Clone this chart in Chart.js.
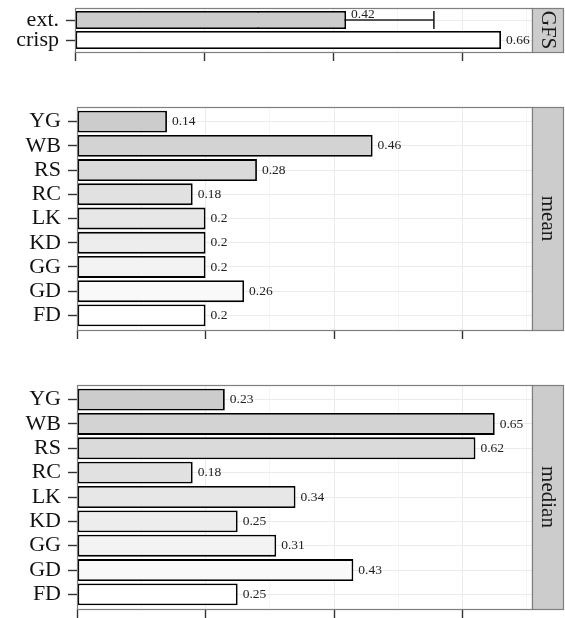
<!DOCTYPE html>
<html>
<head>
<meta charset="utf-8">
<script src="https://cdn.jsdelivr.net/npm/chart.js@4/dist/chart.umd.min.js"></script>
<style>
  body { margin: 0; background: #fff; }
  canvas { position: absolute; left: 0; }
</style>
</head>
<body>
<canvas id="gfs" width="565" height="62" style="top:0px"></canvas>
<canvas id="mean" width="565" height="242" style="top:99px"></canvas>
<canvas id="median" width="565" height="241" style="top:377px"></canvas>
<script>
// bottom-to-top order, like the picture
const gfsCategories = ["crisp", "ext."];
const gfsValues = [0.66, 0.42];
const gfsErrors = [0, 0.136];

const categories = ["FD", "GD", "GG", "KD", "LK", "RC", "RS", "WB", "YG"];
const meanValues = [0.2, 0.26, 0.2, 0.2, 0.2, 0.18, 0.28, 0.46, 0.14];
const medianValues = [0.25, 0.43, 0.31, 0.25, 0.34, 0.18, 0.62, 0.65, 0.23];

const xMax = 0.708;
const serif = '"Liberation Serif", "DejaVu Serif", serif';

// white for the first bar down to grey80 for the last one
function greys(n) {
  const lo = Math.pow(0.8, 2.2);
  const out = [];
  for (let i = 0; i < n; i++) {
    const g = Math.round(255 * Math.pow(1 - (i / (n - 1)) * (1 - lo), 1 / 2.2));
    out.push(`rgb(${g},${g},${g})`);
  }
  return out;
}

const isMajor = v => Math.round(v * 10) % 2 === 0;

const panelDecor = {
  id: "panelDecor",
  beforeDatasetsDraw(chart, args, opts) {
    // error bar goes under the bar so only the upper whisker shows
    if (!opts.errors) return;
    const ctx = chart.ctx;
    const xs = chart.scales.x;
    const data = chart.data.datasets[0].data;
    ctx.save();
    ctx.strokeStyle = "#222";
    ctx.lineWidth = 1.6;
    chart.getDatasetMeta(0).data.forEach((bar, i) => {
      const e = opts.errors[i];
      if (!e) return;
      const x0 = xs.getPixelForValue(data[i].x - e);
      const x1 = xs.getPixelForValue(data[i].x + e);
      const h = bar.height / 2;
      ctx.beginPath();
      ctx.moveTo(x0, bar.y); ctx.lineTo(x1, bar.y);
      ctx.moveTo(x0, bar.y - h); ctx.lineTo(x0, bar.y + h);
      ctx.moveTo(x1, bar.y - h); ctx.lineTo(x1, bar.y + h);
      ctx.stroke();
    });
    ctx.restore();
  },
  afterDatasetsDraw(chart, args, opts) {
    const ctx = chart.ctx;
    const data = chart.data.datasets[0].data;
    ctx.save();
    ctx.fillStyle = "#222";
    ctx.font = "13.5px " + serif;
    ctx.textAlign = "left";
    ctx.textBaseline = "middle";
    chart.getDatasetMeta(0).data.forEach((bar, i) => {
      const up = opts.errors && opts.errors[i] ? -6 : 0;
      ctx.fillText(String(data[i].x), bar.x + 5, bar.y + up);
    });
    ctx.restore();
  },
  afterDraw(chart, args, opts) {
    const ctx = chart.ctx;
    const a = chart.chartArea;
    ctx.save();
    ctx.strokeStyle = "#7f7f7f";
    ctx.lineWidth = 1.2;
    ctx.strokeRect(a.left + 0.5, a.top + 0.5, a.right - a.left, a.bottom - a.top);
    // facet strip
    ctx.fillStyle = "#cccccc";
    ctx.fillRect(a.right + 0.5, a.top + 0.5, 31, a.bottom - a.top);
    ctx.strokeRect(a.right + 0.5, a.top + 0.5, 31, a.bottom - a.top);
    ctx.translate(a.right + 16, (a.top + a.bottom) / 2);
    ctx.rotate(Math.PI / 2);
    ctx.fillStyle = "#1a1a1a";
    ctx.font = "21px " + serif;
    ctx.textAlign = "center";
    ctx.textBaseline = "middle";
    ctx.fillText(opts.title, 0, 0);
    ctx.restore();
  }
};

function makePanel(id, labels, values, title, errors, leftWidth, padBottom) {
  return new Chart(document.getElementById(id), {
    type: "bar",
    data: {
      datasets: [{
        data: values.map((v, i) => ({ x: v, y: i + 1 })),
        backgroundColor: greys(labels.length),
        borderColor: "#000",
        borderWidth: 1.8,
        borderSkipped: false,
        barPercentage: 0.9,
        categoryPercentage: 1
      }]
    },
    options: {
      indexAxis: "y",
      responsive: false,
      animation: false,
      devicePixelRatio: 1,
      layout: { padding: { top: 8, right: 33, bottom: padBottom, left: 0 } },
      plugins: {
        legend: { display: false },
        tooltip: { enabled: false },
        panelDecor: { title: title, errors: errors }
      },
      scales: {
        x: {
          type: "linear",
          min: 0,
          max: xMax,
          offset: false,
          border: { display: false },
          ticks: { display: false, stepSize: 0.1, includeBounds: false },
          grid: {
            offset: false,
            color: c => isMajor(c.tick.value) ? "#ebebeb" : "#f5f5f5",
            tickColor: c => isMajor(c.tick.value) ? "#333" : "rgba(0,0,0,0)",
            tickWidth: 1.4,
            tickLength: 9
          }
        },
        y: {
          type: "linear",
          min: 0.4,
          max: labels.length + 0.6,
          offset: false,
          border: { display: false },
          afterBuildTicks: s => { s.ticks = labels.map((_, i) => ({ value: i + 1 })); },
          afterFit: s => { s.width = leftWidth; s.paddingTop = 0; s.paddingBottom = 0; },
          ticks: {
            autoSkip: false,
            padding: 7,
            color: "#111",
            font: { family: serif, size: 22 },
            callback: v => labels[Math.round(v) - 1]
          },
          grid: { offset: false, color: "#ebebeb", tickColor: "#333", tickWidth: 1.4, tickLength: 9 }
        }
      }
    },
    plugins: [panelDecor]
  });
}

makePanel("gfs", gfsCategories, gfsValues, "GFS", gfsErrors, 75, 1);
makePanel("mean", categories, meanValues, "mean", null, 77, 2);
makePanel("median", categories, medianValues, "median", null, 77, 0);
</script>
</body>
</html>
